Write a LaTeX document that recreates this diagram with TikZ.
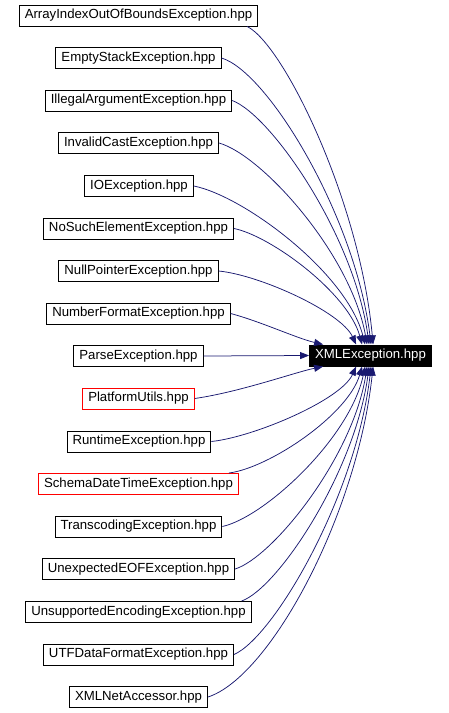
\documentclass[tikz,border=0pt]{standalone}
\usepackage{fontspec}
\setmainfont{Liberation Sans}
\usepackage{tikz}
\usetikzlibrary{arrows.meta}

\definecolor{edgeblue}{HTML}{191970}

\begin{document}
\begin{tikzpicture}[
    x=1pt, y=-1pt,
    >={Triangle[length=9pt, width=7pt]},
    file/.style={draw=black, line width=1pt, inner xsep=5.5pt, inner ysep=0pt,
        minimum height=21pt, text height=9.5pt, text depth=2.8pt,
        font=\fontsize{13.2}{15}\selectfont},
    missing/.style={file, draw=red},
    target/.style={file, fill=black, text=white},
    edge/.style={->, edgeblue, line width=0.75pt}
]
\useasboundingbox (0,0) rectangle (449,713);

% ==================== INCLUDING FILES ====================
\node[file]    (arrindex)    at (138.5,15.5)  {ArrayIndexOutOfBoundsException.hpp};
\node[file]    (emptystack)  at (138.5,58)    {EmptyStackException.hpp};
\node[file]    (illegalarg)  at (138.5,100.5) {IllegalArgumentException.hpp};
\node[file]    (invalidcast) at (138.5,143)   {InvalidCastException.hpp};
\node[file]    (ioexc)       at (139,186)     {IOException.hpp};
\node[file]    (nosuchelem)  at (138.5,228.5) {NoSuchElementException.hpp};
\node[file]    (nullptr)     at (138.5,271)   {NullPointerException.hpp};
\node[file]    (numformat)   at (138.5,313.5) {NumberFormatException.hpp};
\node[file]    (parse)       at (138.5,356)   {ParseException.hpp};
\node[missing] (platform)    at (138.5,398.5) {PlatformUtils.hpp};
\node[file]    (runtime)     at (139,441.5)   {RuntimeException.hpp};
\node[missing] (schemadt)    at (138.5,484)   {SchemaDateTimeException.hpp};
\node[file]    (transcoding) at (138.5,526.5) {TranscodingException.hpp};
\node[file]    (unexpeof)    at (138.5,569)   {UnexpectedEOFException.hpp};
\node[file]    (unsupenc)    at (138.5,612)   {UnsupportedEncodingException.hpp};
\node[file]    (utfdata)     at (138.5,654.5) {UTFDataFormatException.hpp};
\node[file]    (netaccessor) at (138.5,697)   {XMLNetAccessor.hpp};

% ==================== INCLUDED FILE ====================
\node[target] (xmlexc) at (370.5,355.5) {XMLException.hpp};

% Edges into the top of the target
\draw[edge] ([xshift=-11pt]arrindex.south east) .. controls (284,45) and (360,202) .. ([xshift=64pt]xmlexc.north west);
\draw[edge] (emptystack.east) .. controls (268,72) and (355,216) .. ([xshift=62pt]xmlexc.north west);
\draw[edge] (illegalarg.east) .. controls (271,115) and (354,235) .. ([xshift=60pt]xmlexc.north west);
\draw[edge] (invalidcast.east) .. controls (262,155) and (351,254) .. ([xshift=58pt]xmlexc.north west);
\draw[edge] (ioexc.east) .. controls (244,196) and (347,273) .. ([xshift=56pt]xmlexc.north west);
\draw[edge] (nosuchelem.east) .. controls (271,236) and (348,293) .. ([xshift=53pt]xmlexc.north west);
\draw[edge] (nullptr.east) .. controls (260,275) and (341,312) .. ([xshift=47pt]xmlexc.north west);
\draw[edge] (numformat.east) .. controls (262,322) and (296,338) .. ([xshift=14pt]xmlexc.north west);

% Straight edge into the side
\draw[edge] (parse.east) -- (xmlexc.west);

% Edges into the bottom of the target
\draw[edge] (platform.east) .. controls (240,392) and (296,372) .. ([xshift=14pt]xmlexc.south west);
\draw[edge] (runtime.east) .. controls (254,437) and (341,400) .. ([xshift=47pt]xmlexc.south west);
\draw[edge] ([xshift=-10pt]schemadt.north east) .. controls (269,468) and (348,415) .. ([xshift=53pt]xmlexc.south west);
\draw[edge] (transcoding.east) .. controls (265,517) and (350,438) .. ([xshift=56pt]xmlexc.south west);
\draw[edge] (unexpeof.east) .. controls (273,557) and (353,457) .. ([xshift=58pt]xmlexc.south west);
\draw[edge] ([xshift=-10pt]unsupenc.north east) .. controls (278,588) and (355,472) .. ([xshift=60pt]xmlexc.south west);
\draw[edge] (utfdata.east) .. controls (274,637) and (356,496) .. ([xshift=62pt]xmlexc.south west);
\draw[edge] (netaccessor.east) .. controls (270,677) and (357,515) .. ([xshift=64pt]xmlexc.south west);

\end{tikzpicture}
\end{document}
